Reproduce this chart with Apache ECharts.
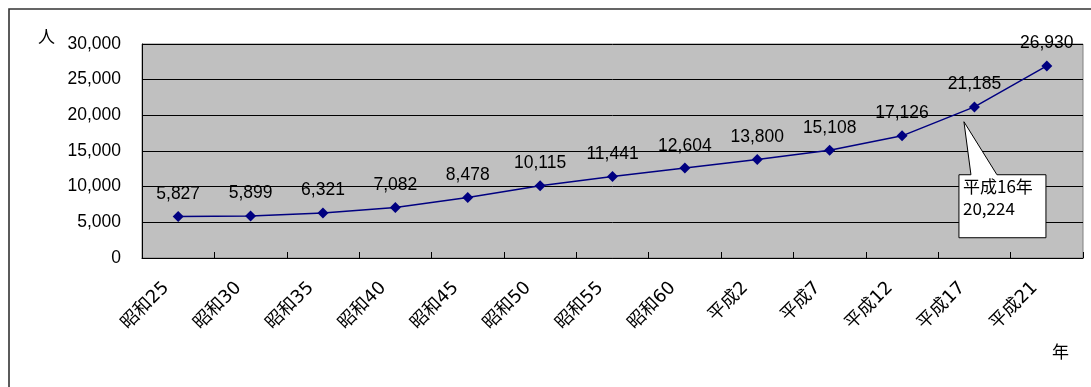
<!DOCTYPE html>
<html>
<head>
<meta charset="utf-8">
<script src="https://cdn.jsdelivr.net/npm/echarts@6/dist/echarts.min.js"></script>
<style>
  html, body { margin: 0; padding: 0; background: #fff; }
  #chart { width: 1091px; height: 387px; }
</style>
</head>
<body>
<div id="chart"></div>
<script>
// Population by year (persons)
const years = ['昭和25', '昭和30', '昭和35', '昭和40', '昭和45', '昭和50', '昭和55',
               '昭和60', '平成2', '平成7', '平成12', '平成17', '平成21'];
const population = [5827, 5899, 6321, 7082, 8478, 10115, 11441, 12604, 13800, 15108, 17126, 21185, 26930];
const yTicks = [0, 5000, 10000, 15000, 20000, 25000, 30000];

// Callout for the 平成16 figure
const noteTitle = '平成16年';
const noteValue = 20224;
const noteFrom = 10;     // 平成12
const noteFraction = 0.8; // 平成16 lies 4/5 of the way from 平成12 to 平成17

const FONT = '"Liberation Sans", Arial, "Noto Sans CJK JP", sans-serif';
const fmt = v => v.toLocaleString('en-US');

const chart = echarts.init(document.getElementById('chart'));
chart.setOption({
  animation: false,
  backgroundColor: '#fff',
  grid: {
    left: 142, right: 8, top: 44, bottom: 129,
    show: true, backgroundColor: '#C0C0C0', borderColor: '#808080', borderWidth: 1
  },
  xAxis: {
    type: 'category',
    data: years,
    boundaryGap: true,
    axisLine: { show: true, lineStyle: { color: '#000', width: 1 } },
    axisTick: { show: true, inside: true, length: 6, lineStyle: { color: '#000' } },
    axisLabel: {
      rotate: 45, margin: 15, padding: [0, 17, 0, 0],
      fontFamily: '"DejaVu Sans", "Noto Sans CJK JP", sans-serif', fontSize: 18, color: '#000'
    },
    splitLine: { show: false }
  },
  yAxis: {
    type: 'value',
    min: yTicks[0], max: yTicks[yTicks.length - 1], interval: yTicks[1] - yTicks[0],
    axisLine: { show: true, lineStyle: { color: '#000', width: 1 } },
    axisTick: { show: true, inside: true, length: 5, lineStyle: { color: '#000' } },
    axisLabel: { formatter: fmt, margin: 21, fontFamily: FONT, fontSize: 17.5, color: '#000' },
    splitLine: { show: true, lineStyle: { color: '#000', width: 1 } }
  },
  series: [{
    type: 'line',
    data: population,
    symbol: 'diamond',
    symbolSize: 11,
    itemStyle: { color: '#000080' },
    lineStyle: { color: '#000080', width: 1.5 },
    label: {
      show: true, position: 'top', distance: 8,
      formatter: p => fmt(p.value),
      fontFamily: FONT, fontSize: 17.5, color: '#000'
    }
  }]
});

// Annotations: outer frame, unit labels and the 平成16 callout box
function drawAnnotations() {
  const a = chart.convertToPixel({ xAxisIndex: 0, yAxisIndex: 0 }, [noteFrom, noteValue]);
  const b = chart.convertToPixel({ xAxisIndex: 0, yAxisIndex: 0 }, [noteFrom + 1, noteValue]);
  const tx = a[0] + noteFraction * (b[0] - a[0]) + 4;
  const ty = a[1] + 8;
  const bx = tx - 5, by = ty + 53, bw = 87, bh = 63;
  chart.setOption({
    graphic: [
      { type: 'polyline', shape: { points: [[9, 400], [9, 9], [1100, 9]] },
        style: { stroke: '#333', lineWidth: 1.6, fill: null }, silent: true },
      { type: 'text', left: 38, top: 28,
        style: { text: '人', font: '17px "Noto Sans CJK JP", sans-serif', fill: '#000' } },
      { type: 'text', left: 1052, top: 343,
        style: { text: '年', font: '17px "Noto Sans CJK JP", sans-serif', fill: '#000' } },
      { type: 'polygon',
        shape: { points: [[bx, by], [bx + 12, by], [tx, ty], [bx + 38, by], [bx + bw, by], [bx + bw, by + bh], [bx, by + bh]] },
        style: { fill: '#fff', stroke: '#000', lineWidth: 1 }, z: 100 },
      { type: 'text', x: bx + 4, y: by + 1, z: 101,
        style: { text: noteTitle + '\n' + fmt(noteValue), font: '17px "Noto Sans CJK JP", sans-serif',
                 lineHeight: 22, fill: '#000' } }
    ]
  });
}
drawAnnotations();
</script>
</body>
</html>
